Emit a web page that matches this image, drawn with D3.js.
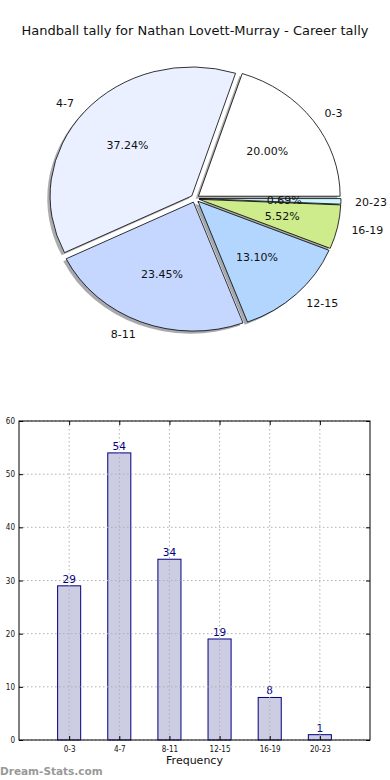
<!DOCTYPE html>
<html><head><meta charset="utf-8">
<script src="https://cdn.jsdelivr.net/npm/d3@7"></script>
<style>body{margin:0;background:#fff}svg{display:block}text{font-family:"DejaVu Sans",sans-serif}</style>
</head><body>
<svg id="c" width="390" height="780"></svg>
<script>
const categories = ["0-3","4-7","8-11","12-15","16-19","20-23"];
const values = [29,54,34,19,8,1];
const pieColors = ["#ffffff","#eaf0ff","#c5d6ff","#b3d6ff","#ceec8c","#ccf6ff"];
const yTicks = [0,10,20,30,40,50,60];
const title = "Handball tally for Nathan Lovett-Murray - Career tally";
const xLabel = "Frequency";
const watermark = "Dream-Stats.com";

const svg = d3.select("#c");
svg.append("text").attr("x",195).attr("y",34.5).attr("text-anchor","middle")
  .attr("font-size",13).attr("fill","#111").text(title);

// ---- pie ----
const cx=195, cy=198.5, rx=141.7, ry=129, explode=0.03;
const total=d3.sum(values);
const pie=d3.pie().sort(null).startAngle(Math.PI/2).endAngle(Math.PI/2-2*Math.PI);
const arcs=pie(values);
const arc=d3.arc().innerRadius(0).outerRadius(rx);
const g=svg.append("g").attr("transform",`translate(${cx},${cy}) scale(1,${ry/rx})`);
function mid(a){const d=(a.startAngle+a.endAngle)/2; return Math.PI/2-d;}
function shadeColor(c){const r=d3.rgb(c);return d3.rgb(r.r*0.3,r.g*0.3,r.b*0.3).toString();}
arcs.forEach((a,i)=>{
  const t=mid(a), dx=explode*rx*Math.cos(t), dy=-explode*rx*Math.sin(t);
  g.append("path").attr("d",arc(a))
   .attr("transform",`translate(${dx-0.02*rx},${dy+0.02*rx})`)
   .attr("fill",shadeColor(pieColors[i])).attr("fill-opacity",0.45);
});
arcs.forEach((a,i)=>{
  const t=mid(a), dx=explode*rx*Math.cos(t), dy=-explode*rx*Math.sin(t);
  g.append("path").attr("d",arc(a)).attr("transform",`translate(${dx},${dy})`)
   .attr("fill",pieColors[i]).attr("stroke","#000").attr("stroke-width",0.8)
   .attr("vector-effect","non-scaling-stroke");
});
arcs.forEach((a,i)=>{
  const t=mid(a), c=Math.cos(t), s=Math.sin(t);
  const ox=cx+explode*rx*c, oy=cy-explode*ry*s;
  const lx=ox+1.1*rx*c, ly=oy-1.1*ry*s;
  svg.append("text").attr("x",lx).attr("y",ly).attr("dy","0.35em")
    .attr("text-anchor",c>0?"start":"end").attr("font-size",11).attr("fill","#111")
    .text(categories[i]);
  const px=ox+0.6*rx*c, py=oy-0.6*ry*s;
  svg.append("text").attr("x",px).attr("y",py).attr("dy","0.35em")
    .attr("text-anchor","middle").attr("font-size",11).attr("fill","#111")
    .text((values[i]/total*100).toFixed(2)+"%");
});

// ---- bar chart ----
const L=19,R=370,T=421,B=740;
const x=d3.scaleLinear().domain([-1,categories.length]).range([L,R]);
const y=d3.scaleLinear().domain([0,60]).range([B,T]);
const bw=0.46;
const bg=svg.append("g");
bg.selectAll("rect.bar").data(values).enter().append("rect")
  .attr("x",(d,i)=>x(i-bw/2)).attr("width",x(bw)-x(0))
  .attr("y",d=>y(d)).attr("height",d=>B-y(d))
  .attr("fill","#ccccE2").attr("stroke","#000080").attr("stroke-width",1);
bg.selectAll("text.val").data(values).enter().append("text")
  .attr("x",(d,i)=>x(i)).attr("y",d=>y(d)-3).attr("text-anchor","middle")
  .attr("font-size",10.5).attr("fill","#000080").text(d=>d);
const grid=svg.append("g").attr("stroke","#b0b0b0").attr("stroke-dasharray","1.5,2.5").attr("stroke-width",1);
categories.forEach((c,i)=>grid.append("line").attr("x1",x(i)).attr("x2",x(i)).attr("y1",T).attr("y2",B));
yTicks.forEach(v=>grid.append("line").attr("x1",L).attr("x2",R).attr("y1",y(v)).attr("y2",y(v)));
const xa=d3.axisBottom(x).tickValues(d3.range(categories.length)).tickFormat(i=>categories[i]).tickSize(-4).tickPadding(6);
const xt=svg.append("g").attr("transform",`translate(0,${B})`).call(xa);
const xa2=d3.axisTop(x).tickValues(d3.range(categories.length)).tickFormat("").tickSize(-4);
const xt2=svg.append("g").attr("transform",`translate(0,${T})`).call(xa2);
const ya=d3.axisLeft(y).tickValues(yTicks).tickSize(-4).tickPadding(4);
const yt=svg.append("g").attr("transform",`translate(${L},0)`).call(ya);
const ya2=d3.axisRight(y).tickValues(yTicks).tickFormat("").tickSize(-4);
const yt2=svg.append("g").attr("transform",`translate(${R},0)`).call(ya2);
[xt,xt2,yt,yt2].forEach(a=>{a.select(".domain").remove();a.selectAll("text").attr("font-size",8).attr("fill","#111").style("font-family","DejaVu Sans Condensed, DejaVu Sans");a.selectAll("line").attr("stroke","#000");});
svg.append("rect").attr("x",L).attr("y",T).attr("width",R-L).attr("height",B-T)
  .attr("fill","none").attr("stroke","#000").attr("stroke-width",1);
svg.append("text").attr("x",(L+R)/2).attr("y",764).attr("text-anchor","middle")
  .attr("font-size",11).attr("fill","#111").text(xLabel);
svg.append("text").attr("x",0).attr("y",775).attr("font-size",10.5).attr("font-weight","bold")
  .attr("fill","#999").text(watermark);
</script>
</body></html>
